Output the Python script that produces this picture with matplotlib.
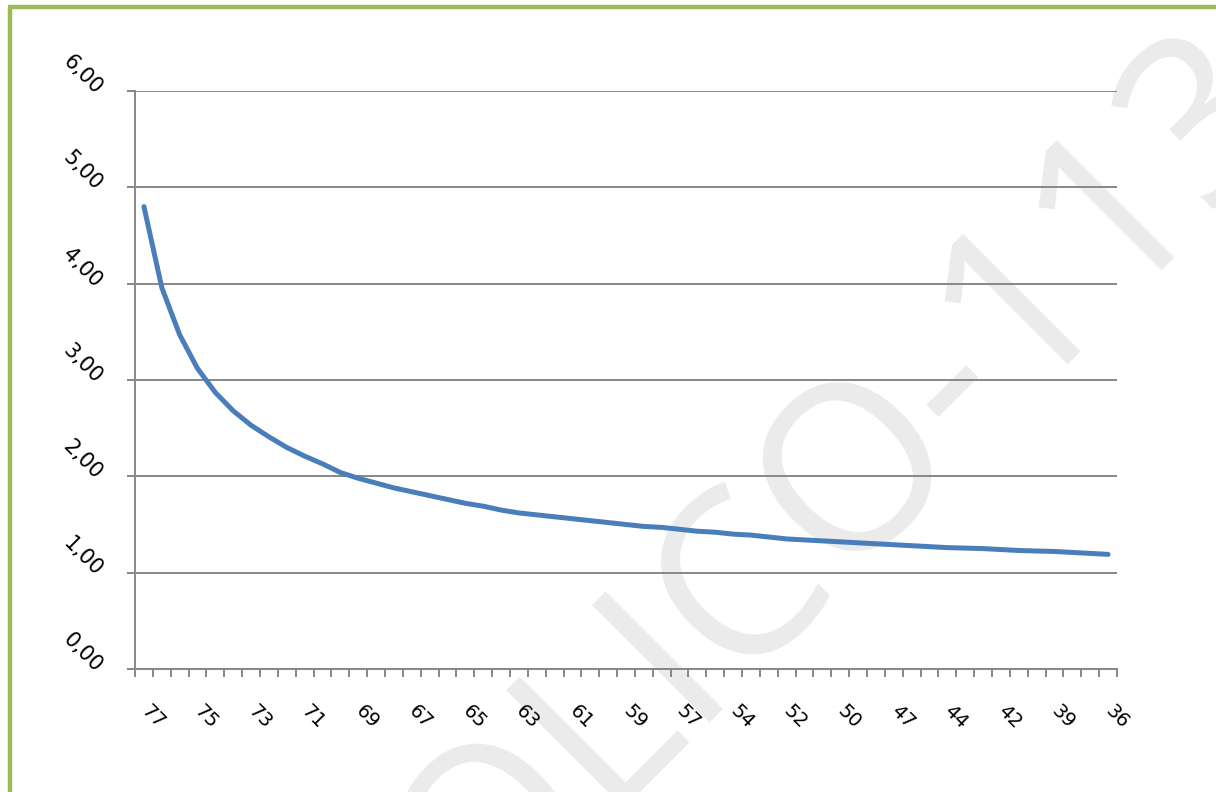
import matplotlib
matplotlib.use("Agg")
import matplotlib.pyplot as plt
from matplotlib.lines import Line2D
from matplotlib.ticker import FixedLocator

# Category axis: 55 points, every third one labelled
n_points = 55
label_step = 3
shown_labels = ["77", "75", "73", "71", "69", "67", "65", "63", "61", "59",
                "57", "54", "52", "50", "47", "44", "42", "39", "36"]

# Series values
values = [4.80, 3.96, 3.47, 3.12, 2.87, 2.68, 2.53, 2.41, 2.30, 2.21,
          2.13, 2.04, 1.98, 1.93, 1.88, 1.84, 1.80, 1.76, 1.72, 1.69,
          1.65, 1.62, 1.60, 1.58, 1.56, 1.54, 1.52, 1.50, 1.48, 1.47,
          1.45, 1.43, 1.42, 1.40, 1.39, 1.37, 1.35, 1.34, 1.33, 1.32,
          1.31, 1.30, 1.29, 1.28, 1.27, 1.26, 1.255, 1.25, 1.24, 1.23,
          1.225, 1.22, 1.21, 1.20, 1.19]

y_ticks = [0, 1, 2, 3, 4, 5, 6]
y_labels = ["0,00", "1,00", "2,00", "3,00", "4,00", "5,00", "6,00"]

W, H = 1216, 792
fig = plt.figure(figsize=(W / 100, H / 100), dpi=100)
fig.patch.set_facecolor("white")

# Watermark behind the plot
fig.text(1302 / W, 1 - 116 / H, "OLICO-113", rotation=45, rotation_mode="anchor",
         ha="right", va="baseline", fontsize=167, color="#ebebeb",
         family="Open Sans", zorder=-5)

ax = fig.add_axes([135 / W, 1 - 669 / H, 982 / W, 578 / H])
ax.set_facecolor("none")

grid_col = "#878787"
x = list(range(n_points))
ax.plot(x, values, color="#4a7ebb", lw=3.6, solid_capstyle="round", zorder=3)

ax.set_xlim(-0.5, n_points - 0.5)
ax.set_ylim(0, 6)

ax.set_yticks(y_ticks)
ax.set_yticklabels(y_labels)
ax.yaxis.grid(True, color=grid_col, lw=1.4)
ax.set_axisbelow(True)

ax.set_xticks(x[::label_step])
ax.set_xticklabels(shown_labels)
ax.xaxis.set_minor_locator(FixedLocator([i - 0.5 for i in range(n_points + 1)]))

for side in ("top", "right"):
    ax.spines[side].set_visible(False)
for side in ("left", "bottom"):
    ax.spines[side].set_color(grid_col)
    ax.spines[side].set_linewidth(1.4)

ax.tick_params(axis="y", direction="out", length=6, width=1.4, color=grid_col,
               pad=20, labelsize=15)
ax.tick_params(axis="x", which="major", length=0, pad=28, labelsize=14)
ax.tick_params(axis="x", which="minor", direction="out", length=6, width=1.4,
               color=grid_col)

for lab in ax.get_yticklabels():
    lab.set_rotation(-45)
    lab.set_rotation_mode("anchor")
    lab.set_ha("right")
    lab.set_va("center")
for lab in ax.get_xticklabels():
    lab.set_rotation(-45)
    lab.set_rotation_mode("anchor")
    lab.set_ha("left")
    lab.set_va("center")

# Green frame along the left and top edges
green = "#9bbb59"
fig.add_artist(Line2D([9.5 / W, 9.5 / W], [0, 1 - 6.5 / H], transform=fig.transFigure,
                      color=green, lw=3.2, solid_capstyle="butt"))
fig.add_artist(Line2D([8 / W, 1], [1 - 6.5 / H, 1 - 6.5 / H], transform=fig.transFigure,
                      color=green, lw=3.2, solid_capstyle="butt"))

fig.savefig("out.png", dpi=100)
